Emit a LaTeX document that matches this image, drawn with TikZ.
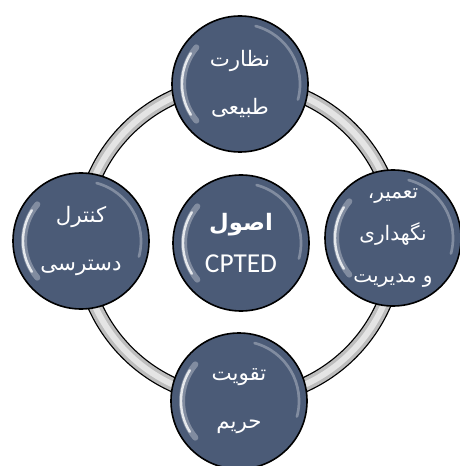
\documentclass[tikz,border=0pt]{standalone}
\usepackage{fontspec}
\setmainfont{Carlito}
\newfontfamily\arabicfont[Script=Arabic]{DejaVu Sans}
\TeXXeTstate=1

\definecolor{bubblefill}{HTML}{4B5B77}
\definecolor{bubbleedge}{HTML}{33405A}
\definecolor{ringgray}{HTML}{BDBDBD}
\definecolor{ringlight}{HTML}{E4E4E4}

\pgfdeclareradialshading{bubbleshade}{\pgfpoint{0bp}{0bp}}{%
  color(0bp)=(bubblefill); color(38bp)=(bubblefill);
  color(47bp)=(bubbleedge); color(50bp)=(bubbleedge)}

\tikzset{
  bubble/.style={circle, draw=black, line width=1.2pt, shading=bubbleshade,
    minimum size=102pt, inner sep=0pt, text=white, align=center,
    font=\arabicfont\fontsize{16}{36}\selectfont},
  glow/.style={white, opacity=.3, line width=4.5pt, line cap=round},
  gloss/.style={white, opacity=.8, line width=1.8pt, line cap=round},
  rim/.style={white, opacity=.3, line width=2pt, line cap=round}
}

\begin{document}
\begin{tikzpicture}[x=0.75pt, y=-0.75pt]

  \useasboundingbox (0,0) rectangle (459,466);

  %Ring behind the principles
  \coordinate (hub) at (239,241);
  \draw [line width=11.5pt, black]     (hub) circle (158);
  \draw [line width=9.6pt, ringgray]   (hub) circle (158);
  \draw [line width=4.5pt, ringlight]  (hub) circle (158);

  %Principles
  \node [bubble] (surveil) at (240,84)
    {\beginR نظارت\endR\\\beginR طبیعی\endR};
  \node [bubble] (access) at (81,241)
    {\beginR کنترل\endR\\\beginR دسترسی\endR};
  \node [bubble, font=\arabicfont\fontsize{15}{31.5}\selectfont] (maint) at (393,238)
    {\beginR تعمیر،\endR\\\beginR نگهداری\endR\\\beginR و مدیریت\endR};
  \node [bubble] (territory) at (239,401)
    {\beginR تقویت\endR\\\beginR حریم\endR};

  %Core
  \node [bubble, font=\fontsize{20.5}{31}\selectfont] (core) at (241,243)
    {{\arabicfont\bfseries\fontsize{17}{31}\selectfont\beginR اصول\endR}\\CPTED};

  %Gloss on each bubble
  \foreach \n in {surveil, access, maint, territory, core} {
    \draw [glow]  (\n.center) ++(140:57) arc (140:220:57);
    \draw [gloss] (\n.center) ++(148:58) arc (148:212:58);
    \draw [rim]   (\n.center) ++(-75:60) arc (-75:15:60);
  }

\end{tikzpicture}
\end{document}
